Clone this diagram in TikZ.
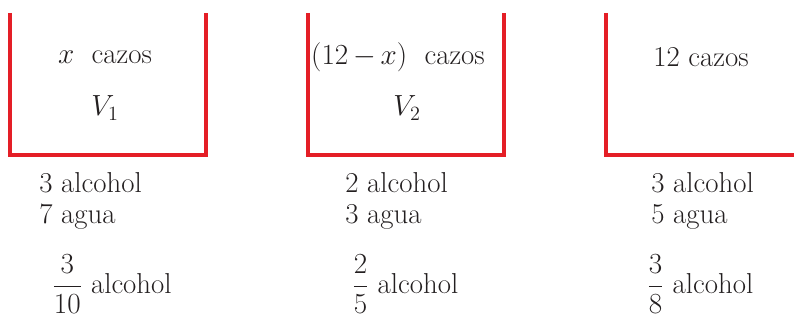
\documentclass[tikz,border=0pt]{standalone}
\usepackage{amssymb,amsmath}
\usepackage{xcolor}
\usepackage{tikz}
\usetikzlibrary{positioning}
\definecolor{boxred}{RGB}{228,30,38}
\definecolor{inkgray}{RGB}{35,31,32}
\tikzstyle{vessel} = [draw=boxred, line width=2.2pt, line join=miter]
\tikzstyle{label} = [inner sep=0pt, text=inkgray, font=\fontsize{20.5}{24}\selectfont]

\begin{document}
\begin{tikzpicture}
\useasboundingbox (0,0) rectangle (19.85,8);
% recipientes
\draw[vessel] (0.25,7.675) -- (0.25,4.125) -- (5.15,4.125) -- (5.15,7.675);
\draw[vessel] (7.7,7.675) -- (7.7,4.125) -- (12.6,4.125) -- (12.6,7.675);
\draw[vessel] (15.15,7.675) -- (15.15,4.125) -- (19.85,4.125);

\node[label] (cazosuno) at (2.625,6.575) {$x$\ \ cazos};
\node[label] (vuno) at (2.625,5.3) {$V_1$};
\node[label] (cazosdos) at (9.95,6.575) {$(12\,{-}\,x)$\ \ cazos};
\node[label] (vdos) at (10.175,5.3) {$V_2$};
\node[label] (cazostres) at (17.525,6.575) {12 cazos};

% composicion
\node[label, anchor=base west] (alcuno) at (0.975,3.175) {3 alcohol};
\node[label, anchor=base west] (aguauno) at (0.975,2.4) {7 agua};
\node[label, anchor=base west] (alcdos) at (8.625,3.175) {2 alcohol};
\node[label, anchor=base west] (aguados) at (8.625,2.4) {3 agua};
\node[label, anchor=base west] (alctres) at (16.275,3.175) {3 alcohol};
\node[label, anchor=base west] (aguatres) at (16.275,2.4) {5 agua};

% proporciones
\node[label, anchor=base west] (fracuno) at (1.3,0.66) {$\dfrac{3}{10}$\ alcohol};
\node[label, anchor=base west] (fracdos) at (8.8,0.66) {$\dfrac{2}{5}$\ alcohol};
\node[label, anchor=base west] (fractres) at (16.175,0.66) {$\dfrac{3}{8}$\ alcohol};
\end{tikzpicture}
\end{document}
